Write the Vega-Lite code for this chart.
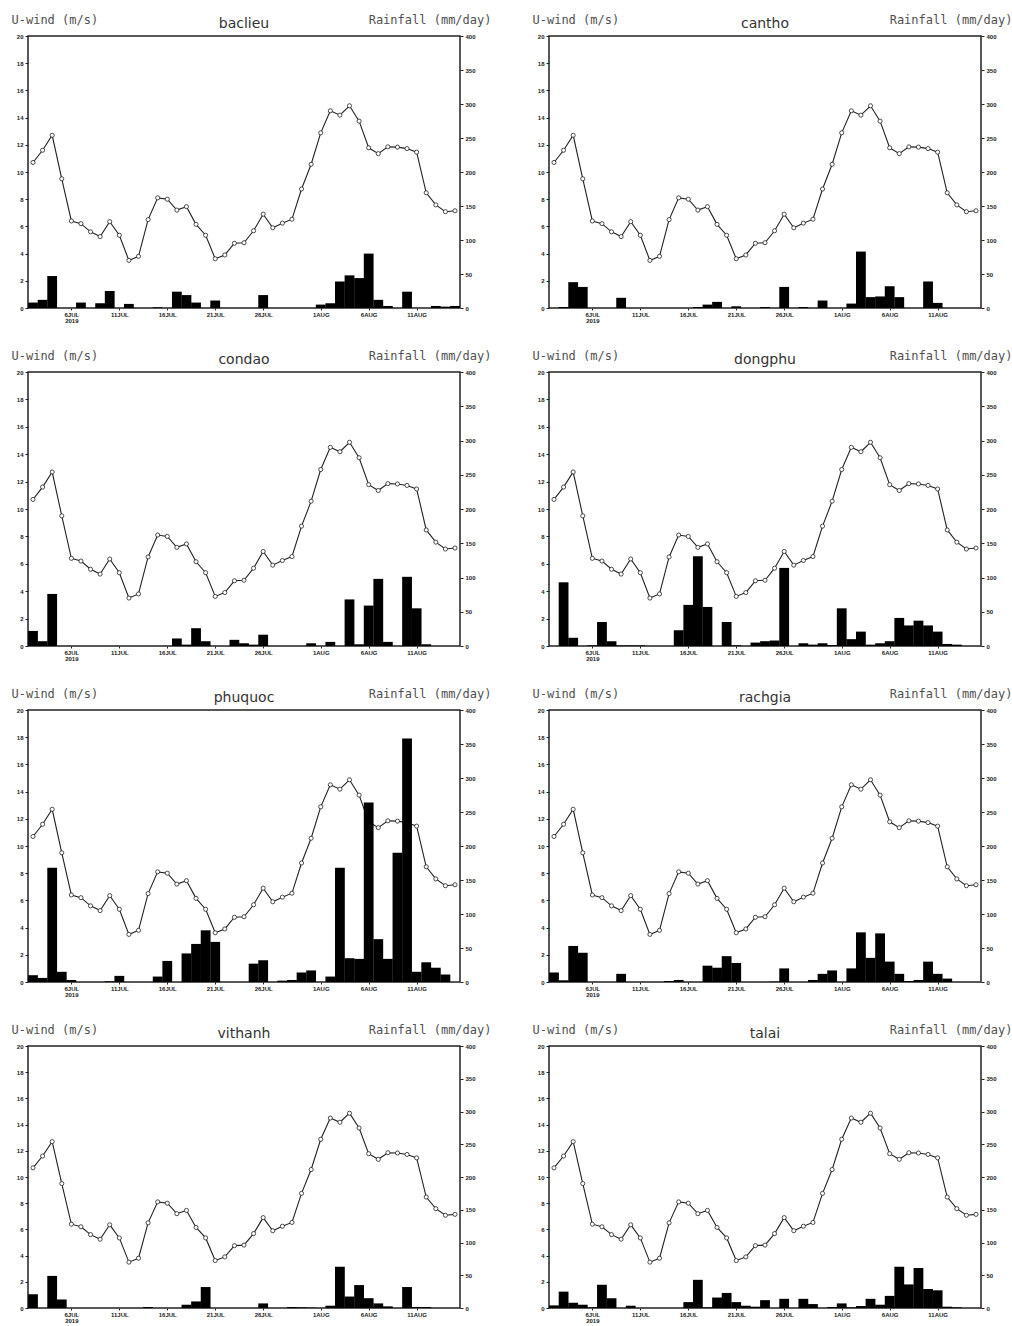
{
"$schema": "https://vega.github.io/schema/vega-lite/v6.json",
"background": "white",
"padding": {"left": 10, "top": 12, "right": 0, "bottom": 0},
"datasets": {
"wind": [
{"date":"2019-07-02","uwind":10.7},{"date":"2019-07-03","uwind":11.6},{"date":"2019-07-04","uwind":12.7},{"date":"2019-07-05","uwind":9.5},{"date":"2019-07-06","uwind":6.4},{"date":"2019-07-07","uwind":6.2},{"date":"2019-07-08","uwind":5.6},{"date":"2019-07-09","uwind":5.25},{"date":"2019-07-10","uwind":6.35},{"date":"2019-07-11","uwind":5.35},{"date":"2019-07-12","uwind":3.5},{"date":"2019-07-13","uwind":3.8},{"date":"2019-07-14","uwind":6.5},{"date":"2019-07-15","uwind":8.1},{"date":"2019-07-16","uwind":8.0},{"date":"2019-07-17","uwind":7.2},{"date":"2019-07-18","uwind":7.45},{"date":"2019-07-19","uwind":6.15},{"date":"2019-07-20","uwind":5.35},{"date":"2019-07-21","uwind":3.62},{"date":"2019-07-22","uwind":3.9},{"date":"2019-07-23","uwind":4.76},{"date":"2019-07-24","uwind":4.8},{"date":"2019-07-25","uwind":5.68},{"date":"2019-07-26","uwind":6.9},{"date":"2019-07-27","uwind":5.9},{"date":"2019-07-28","uwind":6.24},{"date":"2019-07-29","uwind":6.53},{"date":"2019-07-30","uwind":8.75},{"date":"2019-07-31","uwind":10.57},{"date":"2019-08-01","uwind":12.88},{"date":"2019-08-02","uwind":14.5},{"date":"2019-08-03","uwind":14.18},{"date":"2019-08-04","uwind":14.87},{"date":"2019-08-05","uwind":13.74},{"date":"2019-08-06","uwind":11.78},{"date":"2019-08-07","uwind":11.35},{"date":"2019-08-08","uwind":11.85},{"date":"2019-08-09","uwind":11.83},{"date":"2019-08-10","uwind":11.72},{"date":"2019-08-11","uwind":11.46},{"date":"2019-08-12","uwind":8.47},{"date":"2019-08-13","uwind":7.58},{"date":"2019-08-14","uwind":7.08},{"date":"2019-08-15","uwind":7.15}
],
"rain": [
{"station":"baclieu","date":"2019-07-02","rain":8},{"station":"baclieu","date":"2019-07-03","rain":12},{"station":"baclieu","date":"2019-07-04","rain":47},{"station":"baclieu","date":"2019-07-07","rain":8},{"station":"baclieu","date":"2019-07-09","rain":7},{"station":"baclieu","date":"2019-07-10","rain":25},{"station":"baclieu","date":"2019-07-12","rain":6},{"station":"baclieu","date":"2019-07-15","rain":1},{"station":"baclieu","date":"2019-07-17","rain":24},{"station":"baclieu","date":"2019-07-18","rain":19},{"station":"baclieu","date":"2019-07-19","rain":8},{"station":"baclieu","date":"2019-07-21","rain":11},{"station":"baclieu","date":"2019-07-26","rain":19},{"station":"baclieu","date":"2019-08-01","rain":5},{"station":"baclieu","date":"2019-08-02","rain":7},{"station":"baclieu","date":"2019-08-03","rain":39},{"station":"baclieu","date":"2019-08-04","rain":48},{"station":"baclieu","date":"2019-08-05","rain":44},{"station":"baclieu","date":"2019-08-06","rain":80},{"station":"baclieu","date":"2019-08-07","rain":12},{"station":"baclieu","date":"2019-08-08","rain":3},{"station":"baclieu","date":"2019-08-10","rain":24},{"station":"baclieu","date":"2019-08-13","rain":3},{"station":"baclieu","date":"2019-08-14","rain":2},{"station":"baclieu","date":"2019-08-15","rain":3},
{"station":"cantho","date":"2019-07-03","rain":1.5},{"station":"cantho","date":"2019-07-04","rain":38},{"station":"cantho","date":"2019-07-05","rain":31},{"station":"cantho","date":"2019-07-09","rain":15},{"station":"cantho","date":"2019-07-17","rain":1.5},{"station":"cantho","date":"2019-07-18","rain":5},{"station":"cantho","date":"2019-07-19","rain":9},{"station":"cantho","date":"2019-07-21","rain":2.5},{"station":"cantho","date":"2019-07-24","rain":1.5},{"station":"cantho","date":"2019-07-26","rain":31},{"station":"cantho","date":"2019-07-28","rain":1.5},{"station":"cantho","date":"2019-07-30","rain":11},{"station":"cantho","date":"2019-08-02","rain":6.5},{"station":"cantho","date":"2019-08-03","rain":83},{"station":"cantho","date":"2019-08-04","rain":16},{"station":"cantho","date":"2019-08-05","rain":17},{"station":"cantho","date":"2019-08-06","rain":32},{"station":"cantho","date":"2019-08-07","rain":16},{"station":"cantho","date":"2019-08-10","rain":39},{"station":"cantho","date":"2019-08-11","rain":7.5},
{"station":"condao","date":"2019-07-02","rain":22},{"station":"condao","date":"2019-07-03","rain":7},{"station":"condao","date":"2019-07-04","rain":76},{"station":"condao","date":"2019-07-17","rain":11},{"station":"condao","date":"2019-07-18","rain":2},{"station":"condao","date":"2019-07-19","rain":26},{"station":"condao","date":"2019-07-20","rain":7},{"station":"condao","date":"2019-07-23","rain":9},{"station":"condao","date":"2019-07-24","rain":4},{"station":"condao","date":"2019-07-25","rain":2},{"station":"condao","date":"2019-07-26","rain":16.5},{"station":"condao","date":"2019-07-31","rain":4},{"station":"condao","date":"2019-08-02","rain":6},{"station":"condao","date":"2019-08-04","rain":68},{"station":"condao","date":"2019-08-05","rain":2.5},{"station":"condao","date":"2019-08-06","rain":59},{"station":"condao","date":"2019-08-07","rain":98},{"station":"condao","date":"2019-08-08","rain":6},{"station":"condao","date":"2019-08-10","rain":101},{"station":"condao","date":"2019-08-11","rain":55},{"station":"condao","date":"2019-08-12","rain":2.5},
{"station":"dongphu","date":"2019-07-03","rain":93},{"station":"dongphu","date":"2019-07-04","rain":12},{"station":"dongphu","date":"2019-07-06","rain":1},{"station":"dongphu","date":"2019-07-07","rain":35},{"station":"dongphu","date":"2019-07-08","rain":7},{"station":"dongphu","date":"2019-07-09","rain":0.8},{"station":"dongphu","date":"2019-07-10","rain":0.8},{"station":"dongphu","date":"2019-07-11","rain":0.8},{"station":"dongphu","date":"2019-07-15","rain":23},{"station":"dongphu","date":"2019-07-16","rain":60},{"station":"dongphu","date":"2019-07-17","rain":131},{"station":"dongphu","date":"2019-07-18","rain":57},{"station":"dongphu","date":"2019-07-20","rain":35},{"station":"dongphu","date":"2019-07-21","rain":1},{"station":"dongphu","date":"2019-07-23","rain":5},{"station":"dongphu","date":"2019-07-24","rain":7},{"station":"dongphu","date":"2019-07-25","rain":8},{"station":"dongphu","date":"2019-07-26","rain":114},{"station":"dongphu","date":"2019-07-28","rain":4},{"station":"dongphu","date":"2019-07-29","rain":2},{"station":"dongphu","date":"2019-07-30","rain":4},{"station":"dongphu","date":"2019-07-31","rain":1.5},{"station":"dongphu","date":"2019-08-01","rain":55},{"station":"dongphu","date":"2019-08-02","rain":10},{"station":"dongphu","date":"2019-08-03","rain":21},{"station":"dongphu","date":"2019-08-04","rain":2},{"station":"dongphu","date":"2019-08-05","rain":4},{"station":"dongphu","date":"2019-08-06","rain":7},{"station":"dongphu","date":"2019-08-07","rain":41},{"station":"dongphu","date":"2019-08-08","rain":30},{"station":"dongphu","date":"2019-08-09","rain":37},{"station":"dongphu","date":"2019-08-10","rain":30},{"station":"dongphu","date":"2019-08-11","rain":21},{"station":"dongphu","date":"2019-08-12","rain":3},{"station":"dongphu","date":"2019-08-13","rain":2},
{"station":"phuquoc","date":"2019-07-02","rain":10},{"station":"phuquoc","date":"2019-07-03","rain":6},{"station":"phuquoc","date":"2019-07-04","rain":168},{"station":"phuquoc","date":"2019-07-05","rain":15},{"station":"phuquoc","date":"2019-07-06","rain":3},{"station":"phuquoc","date":"2019-07-10","rain":1},{"station":"phuquoc","date":"2019-07-11","rain":9},{"station":"phuquoc","date":"2019-07-15","rain":8},{"station":"phuquoc","date":"2019-07-16","rain":31},{"station":"phuquoc","date":"2019-07-18","rain":42},{"station":"phuquoc","date":"2019-07-19","rain":56},{"station":"phuquoc","date":"2019-07-20","rain":76},{"station":"phuquoc","date":"2019-07-21","rain":59},{"station":"phuquoc","date":"2019-07-25","rain":27},{"station":"phuquoc","date":"2019-07-26","rain":32},{"station":"phuquoc","date":"2019-07-28","rain":2},{"station":"phuquoc","date":"2019-07-29","rain":3},{"station":"phuquoc","date":"2019-07-30","rain":14},{"station":"phuquoc","date":"2019-07-31","rain":17},{"station":"phuquoc","date":"2019-08-02","rain":8},{"station":"phuquoc","date":"2019-08-03","rain":168},{"station":"phuquoc","date":"2019-08-04","rain":35},{"station":"phuquoc","date":"2019-08-05","rain":34},{"station":"phuquoc","date":"2019-08-06","rain":264},{"station":"phuquoc","date":"2019-08-07","rain":63},{"station":"phuquoc","date":"2019-08-08","rain":34},{"station":"phuquoc","date":"2019-08-09","rain":190},{"station":"phuquoc","date":"2019-08-10","rain":358},{"station":"phuquoc","date":"2019-08-11","rain":15},{"station":"phuquoc","date":"2019-08-12","rain":29},{"station":"phuquoc","date":"2019-08-13","rain":21},{"station":"phuquoc","date":"2019-08-14","rain":11},
{"station":"rachgia","date":"2019-07-02","rain":14},{"station":"rachgia","date":"2019-07-03","rain":2.5},{"station":"rachgia","date":"2019-07-04","rain":53},{"station":"rachgia","date":"2019-07-05","rain":43},{"station":"rachgia","date":"2019-07-09","rain":12},{"station":"rachgia","date":"2019-07-14","rain":1.5},{"station":"rachgia","date":"2019-07-15","rain":3},{"station":"rachgia","date":"2019-07-18","rain":24},{"station":"rachgia","date":"2019-07-19","rain":21},{"station":"rachgia","date":"2019-07-20","rain":38},{"station":"rachgia","date":"2019-07-21","rain":28},{"station":"rachgia","date":"2019-07-25","rain":0.5},{"station":"rachgia","date":"2019-07-26","rain":20},{"station":"rachgia","date":"2019-07-29","rain":3},{"station":"rachgia","date":"2019-07-30","rain":12},{"station":"rachgia","date":"2019-07-31","rain":17},{"station":"rachgia","date":"2019-08-02","rain":20},{"station":"rachgia","date":"2019-08-03","rain":73},{"station":"rachgia","date":"2019-08-04","rain":35.5},{"station":"rachgia","date":"2019-08-05","rain":71.5},{"station":"rachgia","date":"2019-08-06","rain":30},{"station":"rachgia","date":"2019-08-07","rain":12},{"station":"rachgia","date":"2019-08-08","rain":1.5},{"station":"rachgia","date":"2019-08-09","rain":3},{"station":"rachgia","date":"2019-08-10","rain":30},{"station":"rachgia","date":"2019-08-11","rain":12},{"station":"rachgia","date":"2019-08-12","rain":5},
{"station":"vithanh","date":"2019-07-02","rain":21},{"station":"vithanh","date":"2019-07-04","rain":49},{"station":"vithanh","date":"2019-07-05","rain":13},{"station":"vithanh","date":"2019-07-14","rain":1.5},{"station":"vithanh","date":"2019-07-18","rain":5},{"station":"vithanh","date":"2019-07-19","rain":10},{"station":"vithanh","date":"2019-07-20","rain":32},{"station":"vithanh","date":"2019-07-26","rain":7},{"station":"vithanh","date":"2019-07-29","rain":1.5},{"station":"vithanh","date":"2019-07-30","rain":1},{"station":"vithanh","date":"2019-07-31","rain":0.5},{"station":"vithanh","date":"2019-08-02","rain":3.5},{"station":"vithanh","date":"2019-08-03","rain":63},{"station":"vithanh","date":"2019-08-04","rain":17.5},{"station":"vithanh","date":"2019-08-05","rain":35},{"station":"vithanh","date":"2019-08-06","rain":15},{"station":"vithanh","date":"2019-08-07","rain":7},{"station":"vithanh","date":"2019-08-08","rain":2.5},{"station":"vithanh","date":"2019-08-10","rain":32},{"station":"vithanh","date":"2019-08-11","rain":1.5},{"station":"vithanh","date":"2019-08-12","rain":1.5},
{"station":"talai","date":"2019-07-02","rain":4},{"station":"talai","date":"2019-07-03","rain":25},{"station":"talai","date":"2019-07-04","rain":8},{"station":"talai","date":"2019-07-05","rain":5},{"station":"talai","date":"2019-07-06","rain":1},{"station":"talai","date":"2019-07-07","rain":35.5},{"station":"talai","date":"2019-07-08","rain":15},{"station":"talai","date":"2019-07-10","rain":3.5},{"station":"talai","date":"2019-07-16","rain":9},{"station":"talai","date":"2019-07-17","rain":43},{"station":"talai","date":"2019-07-18","rain":1},{"station":"talai","date":"2019-07-19","rain":16},{"station":"talai","date":"2019-07-20","rain":23},{"station":"talai","date":"2019-07-21","rain":9},{"station":"talai","date":"2019-07-22","rain":3.5},{"station":"talai","date":"2019-07-23","rain":2},{"station":"talai","date":"2019-07-24","rain":12},{"station":"talai","date":"2019-07-26","rain":14},{"station":"talai","date":"2019-07-28","rain":14},{"station":"talai","date":"2019-07-29","rain":6},{"station":"talai","date":"2019-07-31","rain":1.5},{"station":"talai","date":"2019-08-01","rain":7},{"station":"talai","date":"2019-08-02","rain":1},{"station":"talai","date":"2019-08-03","rain":3},{"station":"talai","date":"2019-08-04","rain":14},{"station":"talai","date":"2019-08-05","rain":5},{"station":"talai","date":"2019-08-06","rain":18.5},{"station":"talai","date":"2019-08-07","rain":63},{"station":"talai","date":"2019-08-08","rain":36},{"station":"talai","date":"2019-08-09","rain":61},{"station":"talai","date":"2019-08-10","rain":29},{"station":"talai","date":"2019-08-11","rain":27},{"station":"talai","date":"2019-08-12","rain":2},{"station":"talai","date":"2019-08-13","rain":1}
]
},
"columns": 2,
"spacing": {"row": 64, "column": 89},
"bounds": "flush",
"concat": [
{"width": 432, "height": 272,
 "title": {"text": "baclieu", "font": "DejaVu Sans", "fontSize": 14, "fontWeight": "normal", "color": "#333", "frame": "group", "anchor": "middle", "offset": 0, "dy": 18},
 "encoding": {"x": {"field": "date", "type": "temporal", "scale": {"type": "utc", "domain": [{"year":2019,"month":7,"date":2,"utc":true},{"year":2019,"month":8,"date":15,"utc":true}]}, "axis": {"title": null, "values": [{"year":2019,"month":7,"date":6,"utc":true},{"year":2019,"month":7,"date":11,"utc":true},{"year":2019,"month":7,"date":16,"utc":true},{"year":2019,"month":7,"date":21,"utc":true},{"year":2019,"month":7,"date":26,"utc":true},{"year":2019,"month":8,"date":1,"utc":true},{"year":2019,"month":8,"date":6,"utc":true},{"year":2019,"month":8,"date":11,"utc":true}], "labelExpr": "(utcdate(datum.value) == 6 && utcmonth(datum.value) == 6) ? ['6JUL', '2019'] : (utcdate(datum.value) + upper(utcFormat(datum.value, '%b')))"}}},
 "layer": [
  {"data": {"name": "wind"}, "encoding": {"y": {"field": "uwind", "type": "quantitative", "scale": {"domain": [0, 20], "nice": false}, "axis": {"orient": "left", "title": "U-wind (m/s)", "values": [0,2,4,6,8,10,12,14,16,18,20]}}},
   "layer": [{"mark": {"type": "line", "color": "#222", "strokeWidth": 1.1}}, {"mark": {"type": "point", "filled": true, "fill": "white", "stroke": "#222", "strokeWidth": 0.8, "size": 17, "opacity": 1}}]},
  {"data": {"name": "rain"}, "transform": [{"filter": {"field": "station", "equal": "baclieu"}}], "mark": {"type": "bar", "size": 9.8, "color": "#000", "clip": true}, "encoding": {"y": {"field": "rain", "type": "quantitative", "scale": {"domain": [0, 400], "nice": false}, "axis": {"orient": "right", "title": "Rainfall (mm/day)", "values": [0,50,100,150,200,250,300,350,400]}}}}
 ],
 "resolve": {"scale": {"y": "independent"}}},
{"width": 432, "height": 272,
 "title": {"text": "cantho", "font": "DejaVu Sans", "fontSize": 14, "fontWeight": "normal", "color": "#333", "frame": "group", "anchor": "middle", "offset": 0, "dy": 18},
 "encoding": {"x": {"field": "date", "type": "temporal", "scale": {"type": "utc", "domain": [{"year":2019,"month":7,"date":2,"utc":true},{"year":2019,"month":8,"date":15,"utc":true}]}, "axis": {"title": null, "values": [{"year":2019,"month":7,"date":6,"utc":true},{"year":2019,"month":7,"date":11,"utc":true},{"year":2019,"month":7,"date":16,"utc":true},{"year":2019,"month":7,"date":21,"utc":true},{"year":2019,"month":7,"date":26,"utc":true},{"year":2019,"month":8,"date":1,"utc":true},{"year":2019,"month":8,"date":6,"utc":true},{"year":2019,"month":8,"date":11,"utc":true}], "labelExpr": "(utcdate(datum.value) == 6 && utcmonth(datum.value) == 6) ? ['6JUL', '2019'] : (utcdate(datum.value) + upper(utcFormat(datum.value, '%b')))"}}},
 "layer": [
  {"data": {"name": "wind"}, "encoding": {"y": {"field": "uwind", "type": "quantitative", "scale": {"domain": [0, 20], "nice": false}, "axis": {"orient": "left", "title": "U-wind (m/s)", "values": [0,2,4,6,8,10,12,14,16,18,20]}}},
   "layer": [{"mark": {"type": "line", "color": "#222", "strokeWidth": 1.1}}, {"mark": {"type": "point", "filled": true, "fill": "white", "stroke": "#222", "strokeWidth": 0.8, "size": 17, "opacity": 1}}]},
  {"data": {"name": "rain"}, "transform": [{"filter": {"field": "station", "equal": "cantho"}}], "mark": {"type": "bar", "size": 9.8, "color": "#000", "clip": true}, "encoding": {"y": {"field": "rain", "type": "quantitative", "scale": {"domain": [0, 400], "nice": false}, "axis": {"orient": "right", "title": "Rainfall (mm/day)", "values": [0,50,100,150,200,250,300,350,400]}}}}
 ],
 "resolve": {"scale": {"y": "independent"}}},
{"width": 432, "height": 274,
 "title": {"text": "condao", "font": "DejaVu Sans", "fontSize": 14, "fontWeight": "normal", "color": "#333", "frame": "group", "anchor": "middle", "offset": 0, "dy": 18},
 "encoding": {"x": {"field": "date", "type": "temporal", "scale": {"type": "utc", "domain": [{"year":2019,"month":7,"date":2,"utc":true},{"year":2019,"month":8,"date":15,"utc":true}]}, "axis": {"title": null, "values": [{"year":2019,"month":7,"date":6,"utc":true},{"year":2019,"month":7,"date":11,"utc":true},{"year":2019,"month":7,"date":16,"utc":true},{"year":2019,"month":7,"date":21,"utc":true},{"year":2019,"month":7,"date":26,"utc":true},{"year":2019,"month":8,"date":1,"utc":true},{"year":2019,"month":8,"date":6,"utc":true},{"year":2019,"month":8,"date":11,"utc":true}], "labelExpr": "(utcdate(datum.value) == 6 && utcmonth(datum.value) == 6) ? ['6JUL', '2019'] : (utcdate(datum.value) + upper(utcFormat(datum.value, '%b')))"}}},
 "layer": [
  {"data": {"name": "wind"}, "encoding": {"y": {"field": "uwind", "type": "quantitative", "scale": {"domain": [0, 20], "nice": false}, "axis": {"orient": "left", "title": "U-wind (m/s)", "values": [0,2,4,6,8,10,12,14,16,18,20]}}},
   "layer": [{"mark": {"type": "line", "color": "#222", "strokeWidth": 1.1}}, {"mark": {"type": "point", "filled": true, "fill": "white", "stroke": "#222", "strokeWidth": 0.8, "size": 17, "opacity": 1}}]},
  {"data": {"name": "rain"}, "transform": [{"filter": {"field": "station", "equal": "condao"}}], "mark": {"type": "bar", "size": 9.8, "color": "#000", "clip": true}, "encoding": {"y": {"field": "rain", "type": "quantitative", "scale": {"domain": [0, 400], "nice": false}, "axis": {"orient": "right", "title": "Rainfall (mm/day)", "values": [0,50,100,150,200,250,300,350,400]}}}}
 ],
 "resolve": {"scale": {"y": "independent"}}},
{"width": 432, "height": 274,
 "title": {"text": "dongphu", "font": "DejaVu Sans", "fontSize": 14, "fontWeight": "normal", "color": "#333", "frame": "group", "anchor": "middle", "offset": 0, "dy": 18},
 "encoding": {"x": {"field": "date", "type": "temporal", "scale": {"type": "utc", "domain": [{"year":2019,"month":7,"date":2,"utc":true},{"year":2019,"month":8,"date":15,"utc":true}]}, "axis": {"title": null, "values": [{"year":2019,"month":7,"date":6,"utc":true},{"year":2019,"month":7,"date":11,"utc":true},{"year":2019,"month":7,"date":16,"utc":true},{"year":2019,"month":7,"date":21,"utc":true},{"year":2019,"month":7,"date":26,"utc":true},{"year":2019,"month":8,"date":1,"utc":true},{"year":2019,"month":8,"date":6,"utc":true},{"year":2019,"month":8,"date":11,"utc":true}], "labelExpr": "(utcdate(datum.value) == 6 && utcmonth(datum.value) == 6) ? ['6JUL', '2019'] : (utcdate(datum.value) + upper(utcFormat(datum.value, '%b')))"}}},
 "layer": [
  {"data": {"name": "wind"}, "encoding": {"y": {"field": "uwind", "type": "quantitative", "scale": {"domain": [0, 20], "nice": false}, "axis": {"orient": "left", "title": "U-wind (m/s)", "values": [0,2,4,6,8,10,12,14,16,18,20]}}},
   "layer": [{"mark": {"type": "line", "color": "#222", "strokeWidth": 1.1}}, {"mark": {"type": "point", "filled": true, "fill": "white", "stroke": "#222", "strokeWidth": 0.8, "size": 17, "opacity": 1}}]},
  {"data": {"name": "rain"}, "transform": [{"filter": {"field": "station", "equal": "dongphu"}}], "mark": {"type": "bar", "size": 9.8, "color": "#000", "clip": true}, "encoding": {"y": {"field": "rain", "type": "quantitative", "scale": {"domain": [0, 400], "nice": false}, "axis": {"orient": "right", "title": "Rainfall (mm/day)", "values": [0,50,100,150,200,250,300,350,400]}}}}
 ],
 "resolve": {"scale": {"y": "independent"}}},
{"width": 432, "height": 272,
 "title": {"text": "phuquoc", "font": "DejaVu Sans", "fontSize": 14, "fontWeight": "normal", "color": "#333", "frame": "group", "anchor": "middle", "offset": 0, "dy": 18},
 "encoding": {"x": {"field": "date", "type": "temporal", "scale": {"type": "utc", "domain": [{"year":2019,"month":7,"date":2,"utc":true},{"year":2019,"month":8,"date":15,"utc":true}]}, "axis": {"title": null, "values": [{"year":2019,"month":7,"date":6,"utc":true},{"year":2019,"month":7,"date":11,"utc":true},{"year":2019,"month":7,"date":16,"utc":true},{"year":2019,"month":7,"date":21,"utc":true},{"year":2019,"month":7,"date":26,"utc":true},{"year":2019,"month":8,"date":1,"utc":true},{"year":2019,"month":8,"date":6,"utc":true},{"year":2019,"month":8,"date":11,"utc":true}], "labelExpr": "(utcdate(datum.value) == 6 && utcmonth(datum.value) == 6) ? ['6JUL', '2019'] : (utcdate(datum.value) + upper(utcFormat(datum.value, '%b')))"}}},
 "layer": [
  {"data": {"name": "wind"}, "encoding": {"y": {"field": "uwind", "type": "quantitative", "scale": {"domain": [0, 20], "nice": false}, "axis": {"orient": "left", "title": "U-wind (m/s)", "values": [0,2,4,6,8,10,12,14,16,18,20]}}},
   "layer": [{"mark": {"type": "line", "color": "#222", "strokeWidth": 1.1}}, {"mark": {"type": "point", "filled": true, "fill": "white", "stroke": "#222", "strokeWidth": 0.8, "size": 17, "opacity": 1}}]},
  {"data": {"name": "rain"}, "transform": [{"filter": {"field": "station", "equal": "phuquoc"}}], "mark": {"type": "bar", "size": 9.8, "color": "#000", "clip": true}, "encoding": {"y": {"field": "rain", "type": "quantitative", "scale": {"domain": [0, 400], "nice": false}, "axis": {"orient": "right", "title": "Rainfall (mm/day)", "values": [0,50,100,150,200,250,300,350,400]}}}}
 ],
 "resolve": {"scale": {"y": "independent"}}},
{"width": 432, "height": 272,
 "title": {"text": "rachgia", "font": "DejaVu Sans", "fontSize": 14, "fontWeight": "normal", "color": "#333", "frame": "group", "anchor": "middle", "offset": 0, "dy": 18},
 "encoding": {"x": {"field": "date", "type": "temporal", "scale": {"type": "utc", "domain": [{"year":2019,"month":7,"date":2,"utc":true},{"year":2019,"month":8,"date":15,"utc":true}]}, "axis": {"title": null, "values": [{"year":2019,"month":7,"date":6,"utc":true},{"year":2019,"month":7,"date":11,"utc":true},{"year":2019,"month":7,"date":16,"utc":true},{"year":2019,"month":7,"date":21,"utc":true},{"year":2019,"month":7,"date":26,"utc":true},{"year":2019,"month":8,"date":1,"utc":true},{"year":2019,"month":8,"date":6,"utc":true},{"year":2019,"month":8,"date":11,"utc":true}], "labelExpr": "(utcdate(datum.value) == 6 && utcmonth(datum.value) == 6) ? ['6JUL', '2019'] : (utcdate(datum.value) + upper(utcFormat(datum.value, '%b')))"}}},
 "layer": [
  {"data": {"name": "wind"}, "encoding": {"y": {"field": "uwind", "type": "quantitative", "scale": {"domain": [0, 20], "nice": false}, "axis": {"orient": "left", "title": "U-wind (m/s)", "values": [0,2,4,6,8,10,12,14,16,18,20]}}},
   "layer": [{"mark": {"type": "line", "color": "#222", "strokeWidth": 1.1}}, {"mark": {"type": "point", "filled": true, "fill": "white", "stroke": "#222", "strokeWidth": 0.8, "size": 17, "opacity": 1}}]},
  {"data": {"name": "rain"}, "transform": [{"filter": {"field": "station", "equal": "rachgia"}}], "mark": {"type": "bar", "size": 9.8, "color": "#000", "clip": true}, "encoding": {"y": {"field": "rain", "type": "quantitative", "scale": {"domain": [0, 400], "nice": false}, "axis": {"orient": "right", "title": "Rainfall (mm/day)", "values": [0,50,100,150,200,250,300,350,400]}}}}
 ],
 "resolve": {"scale": {"y": "independent"}}},
{"width": 432, "height": 262,
 "title": {"text": "vithanh", "font": "DejaVu Sans", "fontSize": 14, "fontWeight": "normal", "color": "#333", "frame": "group", "anchor": "middle", "offset": 0, "dy": 18},
 "encoding": {"x": {"field": "date", "type": "temporal", "scale": {"type": "utc", "domain": [{"year":2019,"month":7,"date":2,"utc":true},{"year":2019,"month":8,"date":15,"utc":true}]}, "axis": {"title": null, "values": [{"year":2019,"month":7,"date":6,"utc":true},{"year":2019,"month":7,"date":11,"utc":true},{"year":2019,"month":7,"date":16,"utc":true},{"year":2019,"month":7,"date":21,"utc":true},{"year":2019,"month":7,"date":26,"utc":true},{"year":2019,"month":8,"date":1,"utc":true},{"year":2019,"month":8,"date":6,"utc":true},{"year":2019,"month":8,"date":11,"utc":true}], "labelExpr": "(utcdate(datum.value) == 6 && utcmonth(datum.value) == 6) ? ['6JUL', '2019'] : (utcdate(datum.value) + upper(utcFormat(datum.value, '%b')))"}}},
 "layer": [
  {"data": {"name": "wind"}, "encoding": {"y": {"field": "uwind", "type": "quantitative", "scale": {"domain": [0, 20], "nice": false}, "axis": {"orient": "left", "title": "U-wind (m/s)", "values": [0,2,4,6,8,10,12,14,16,18,20]}}},
   "layer": [{"mark": {"type": "line", "color": "#222", "strokeWidth": 1.1}}, {"mark": {"type": "point", "filled": true, "fill": "white", "stroke": "#222", "strokeWidth": 0.8, "size": 17, "opacity": 1}}]},
  {"data": {"name": "rain"}, "transform": [{"filter": {"field": "station", "equal": "vithanh"}}], "mark": {"type": "bar", "size": 9.8, "color": "#000", "clip": true}, "encoding": {"y": {"field": "rain", "type": "quantitative", "scale": {"domain": [0, 400], "nice": false}, "axis": {"orient": "right", "title": "Rainfall (mm/day)", "values": [0,50,100,150,200,250,300,350,400]}}}}
 ],
 "resolve": {"scale": {"y": "independent"}}},
{"width": 432, "height": 262,
 "title": {"text": "talai", "font": "DejaVu Sans", "fontSize": 14, "fontWeight": "normal", "color": "#333", "frame": "group", "anchor": "middle", "offset": 0, "dy": 18},
 "encoding": {"x": {"field": "date", "type": "temporal", "scale": {"type": "utc", "domain": [{"year":2019,"month":7,"date":2,"utc":true},{"year":2019,"month":8,"date":15,"utc":true}]}, "axis": {"title": null, "values": [{"year":2019,"month":7,"date":6,"utc":true},{"year":2019,"month":7,"date":11,"utc":true},{"year":2019,"month":7,"date":16,"utc":true},{"year":2019,"month":7,"date":21,"utc":true},{"year":2019,"month":7,"date":26,"utc":true},{"year":2019,"month":8,"date":1,"utc":true},{"year":2019,"month":8,"date":6,"utc":true},{"year":2019,"month":8,"date":11,"utc":true}], "labelExpr": "(utcdate(datum.value) == 6 && utcmonth(datum.value) == 6) ? ['6JUL', '2019'] : (utcdate(datum.value) + upper(utcFormat(datum.value, '%b')))"}}},
 "layer": [
  {"data": {"name": "wind"}, "encoding": {"y": {"field": "uwind", "type": "quantitative", "scale": {"domain": [0, 20], "nice": false}, "axis": {"orient": "left", "title": "U-wind (m/s)", "values": [0,2,4,6,8,10,12,14,16,18,20]}}},
   "layer": [{"mark": {"type": "line", "color": "#222", "strokeWidth": 1.1}}, {"mark": {"type": "point", "filled": true, "fill": "white", "stroke": "#222", "strokeWidth": 0.8, "size": 17, "opacity": 1}}]},
  {"data": {"name": "rain"}, "transform": [{"filter": {"field": "station", "equal": "talai"}}], "mark": {"type": "bar", "size": 9.8, "color": "#000", "clip": true}, "encoding": {"y": {"field": "rain", "type": "quantitative", "scale": {"domain": [0, 400], "nice": false}, "axis": {"orient": "right", "title": "Rainfall (mm/day)", "values": [0,50,100,150,200,250,300,350,400]}}}}
 ],
 "resolve": {"scale": {"y": "independent"}}}
],
"config": {
 "view": {"stroke": "#222", "strokeWidth": 1.5},
 "axis": {"grid": false, "domain": false, "labelFont": "Liberation Sans", "labelFontSize": 6, "labelFontWeight": "bold", "labelColor": "#222", "tickColor": "#222", "tickSize": 3, "labelPadding": 2, "titleFont": "DejaVu Sans Mono", "titleFontSize": 12, "titleFontWeight": "normal", "titleColor": "#505050", "titleAngle": 0},
 "axisLeft": {"titleAlign": "left", "titleBaseline": "alphabetic", "titleX": -17, "titleY": -13},
 "axisRight": {"titleAlign": "right", "titleBaseline": "alphabetic", "titleX": 31, "titleY": -13},
 "axisBottom": {"tickSize": 2, "labelPadding": 1, "labelLineHeight": 6, "labelOverlap": false, "labelFlush": false}
}
}
